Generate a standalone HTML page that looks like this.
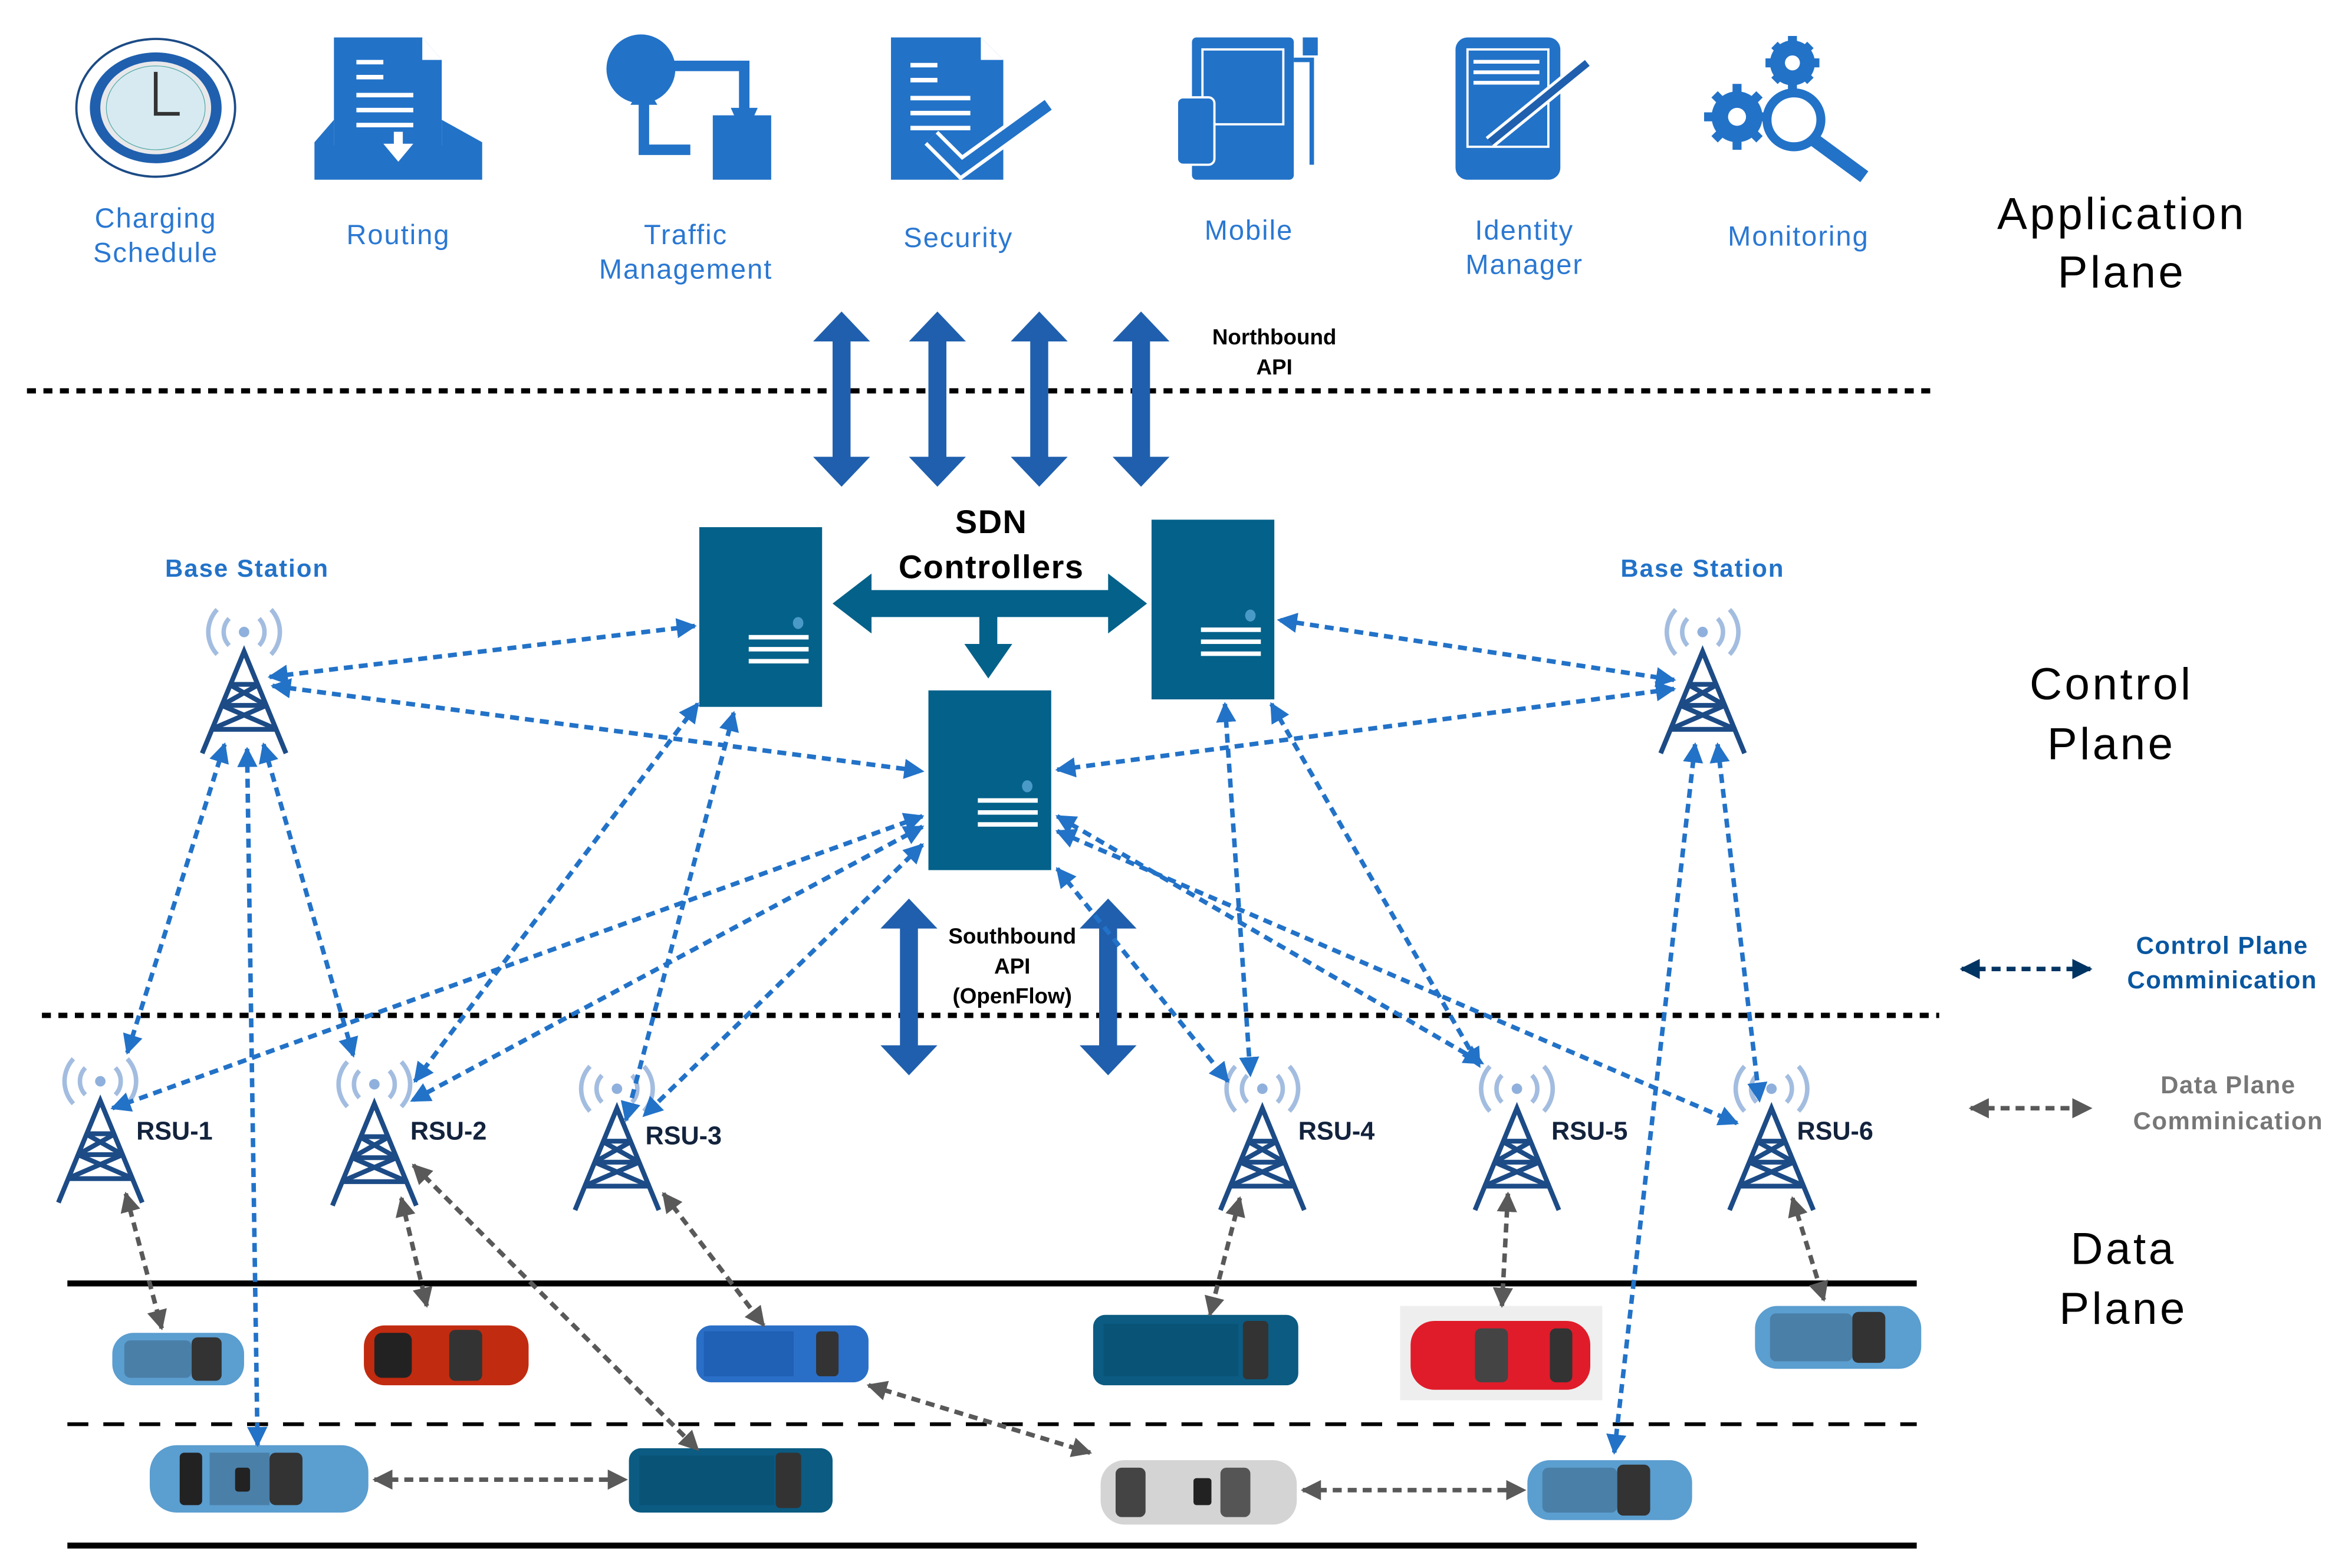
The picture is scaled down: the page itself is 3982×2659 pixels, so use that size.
<!DOCTYPE html>
<html><head><meta charset="utf-8"><style>
html,body{margin:0;padding:0;background:#fff;}
svg{display:block;}
text{font-family:"Liberation Sans",sans-serif;}
</style></head><body>
<svg width="3982" height="2659" viewBox="0 0 1568 1047" preserveAspectRatio="none" xmlns="http://www.w3.org/2000/svg">
<defs>
<marker id="mb" viewBox="0 0 10 10" refX="9" refY="5" markerWidth="4.5" markerHeight="4.5" orient="auto-start-reverse" markerUnits="strokeWidth"><path d="M0,0L10,5L0,10z" fill="#2272c8"/></marker>
<marker id="mg" viewBox="0 0 10 10" refX="9" refY="5" markerWidth="4.5" markerHeight="4.5" orient="auto-start-reverse" markerUnits="strokeWidth"><path d="M0,0L10,5L0,10z" fill="#595959"/></marker>
<marker id="md" viewBox="0 0 10 10" refX="9" refY="5" markerWidth="4.5" markerHeight="4.5" orient="auto-start-reverse" markerUnits="strokeWidth"><path d="M0,0L10,5L0,10z" fill="#003462"/></marker>
<g id="tower">
 <g fill="none" stroke="#a3bde0" stroke-width="3">
  <path d="M-10,-22 a13,13 0 0 0 0,18"/><path d="M10,-22 a13,13 0 0 1 0,18"/>
  <path d="M-18,-28 a22,22 0 0 0 0,30"/><path d="M18,-28 a22,22 0 0 1 0,30"/>
 </g>
 <circle cx="0" cy="-13" r="3.5" fill="#8fb0dc"/>
 <g fill="none" stroke="#1c4b86" stroke-width="3.2">
  <path d="M-28,68 L0,0 L28,68"/>
  <path d="M-10,22 L10,22 M-15,36 L15,36 M-22,52 L22,52"/>
  <path d="M-10,22 L15,36 M10,22 L-15,36 M-15,36 L22,52 M15,36 L-22,52"/>
 </g>
</g>
<g id="server">
 <rect x="0" y="0" width="82" height="120" fill="#03618a"/>
 <ellipse cx="66" cy="64" rx="3.5" ry="4" fill="#4a9ac8"/>
 <rect x="33" y="72" width="40" height="3" fill="#fff"/>
 <rect x="33" y="80" width="40" height="3" fill="#fff"/>
 <rect x="33" y="88" width="40" height="3" fill="#fff"/>
</g>
</defs>

<ellipse cx="104" cy="72" rx="53" ry="46" fill="none" stroke="#1c4b86" stroke-width="1.5"/>
<ellipse cx="104" cy="72" rx="44" ry="37" fill="#1f5fae"/>
<ellipse cx="104" cy="72" rx="37" ry="31" fill="#e8e8ea"/>
<ellipse cx="104" cy="72" rx="33" ry="28" fill="#d7eaf1" stroke="#5aa" stroke-width="0.5"/>
<path d="M104,48 L104,76 L120,76" fill="none" stroke="#333" stroke-width="2.5"/>

<path d="M223,25 L282,25 L295,40 L295,110 L223,110z" fill="#2272c8"/>
<path d="M282,25 L282,40 L295,40z" fill="#fff"/>
<path d="M210,95 L223,80 L223,97 L295,97 L295,80 L322,95 L322,120 L210,120z" fill="#2272c8"/>
<g fill="#fff"><rect x="238" y="40" width="18" height="3"/><rect x="238" y="50" width="18" height="3"/><rect x="238" y="62" width="38" height="3"/><rect x="238" y="72" width="38" height="3"/><rect x="238" y="82" width="38" height="3"/><rect x="263" y="88" width="6" height="10"/><path d="M256,96 L276,96 L266,108z"/></g>

<ellipse cx="428" cy="46" rx="23" ry="23" fill="#2272c8"/>
<path d="M430,57 L430,100 L461,100" fill="none" stroke="#2272c8" stroke-width="7"/>
<path d="M421,70 L430,55 L439,70z" fill="#2272c8"/>
<path d="M446,44 L497,44 L497,88" fill="none" stroke="#2272c8" stroke-width="7"/>
<rect x="476" y="77" width="39" height="43" fill="#2272c8"/>
<path d="M488,72 L497,92 L506,72z" fill="#2272c8"/>

<path d="M595,25 L655,25 L670,40 L670,120 L595,120z" fill="#2272c8"/>
<path d="M655,25 L655,40 L670,40z" fill="#fff"/>
<g fill="#fff"><rect x="608" y="42" width="18" height="3"/><rect x="608" y="52" width="18" height="3"/><rect x="608" y="64" width="40" height="3"/><rect x="608" y="74" width="40" height="3"/><rect x="608" y="84" width="40" height="3"/></g>
<path d="M622,92 L642,112 L700,70" fill="none" stroke="#fff" stroke-width="13"/>
<path d="M622,92 L642,112 L700,70" fill="none" stroke="#2272c8" stroke-width="8"/>

<rect x="796" y="25" width="68" height="95" rx="3" fill="#2272c8"/>
<rect x="803" y="33" width="54" height="50" fill="none" stroke="#fff" stroke-width="1.5"/>
<rect x="786" y="65" width="25" height="45" rx="4" fill="#2272c8" stroke="#fff" stroke-width="1.5"/>
<path d="M864,40 L876,40 L876,110" fill="none" stroke="#2272c8" stroke-width="3"/>
<rect x="870" y="25" width="10" height="12" fill="#2272c8"/>

<rect x="972" y="25" width="70" height="95" rx="8" fill="#2272c8"/>
<rect x="980" y="33" width="54" height="65" fill="none" stroke="#fff" stroke-width="1.5"/>
<g fill="#fff"><rect x="984" y="40" width="44" height="2.5"/><rect x="984" y="47" width="44" height="2.5"/><rect x="984" y="54" width="44" height="2.5"/></g>
<path d="M995,95 L1060,42" stroke="#fff" stroke-width="9"/>
<path d="M995,95 L1060,42" stroke="#1f5fae" stroke-width="5"/>

<g fill="#2272c8">
<circle cx="1160" cy="78" r="17"/><circle cx="1197" cy="42" r="15"/>
<g stroke="#2272c8" stroke-width="6" fill="none"><path d="M1138,78 L1182,78 M1160,56 L1160,100 M1145,63 L1175,93 M1175,63 L1145,93"/><path d="M1179,42 L1215,42 M1197,24 L1197,60 M1185,30 L1209,54 M1209,30 L1185,54"/></g>
<circle cx="1160" cy="78" r="6" fill="#fff"/><circle cx="1197" cy="42" r="5" fill="#fff"/>
<circle cx="1198" cy="80" r="18" fill="#fff" stroke="#2272c8" stroke-width="6"/>
<path d="M1211,93 L1245,118" stroke="#2272c8" stroke-width="9"/>
</g>

<g fill="#2a78d2" font-size="18.5" letter-spacing="0.8" text-anchor="middle">
<text x="104" y="152">Charging</text><text x="104" y="175">Schedule</text>
<text x="266" y="163">Routing</text>
<text x="458" y="163">Traffic</text><text x="458" y="186">Management</text>
<text x="640" y="165">Security</text>
<text x="834" y="160">Mobile</text>
<text x="1018" y="160">Identity</text><text x="1018" y="183">Manager</text>
<text x="1201" y="164">Monitoring</text>
</g>

<g fill="#000" font-size="30" letter-spacing="1.8" text-anchor="middle">
<text x="1417" y="153">Application</text><text x="1417" y="192">Plane</text>
<text x="1410" y="467">Control</text><text x="1410" y="507">Plane</text>
<text x="1418" y="844">Data</text><text x="1418" y="884">Plane</text>
</g>

<line x1="18" y1="261" x2="1290" y2="261" stroke="#000" stroke-width="3.5" stroke-dasharray="6,5"/>
<line x1="28" y1="678" x2="1295" y2="678" stroke="#000" stroke-width="3.5" stroke-dasharray="6,5"/>

<g fill="#1f5fae">
<path id="va" d="M0,0 L-19,20 L-6,20 L-6,97 L-19,97 L0,117 L19,97 L6,97 L6,20 L19,20z" transform="translate(562,208)"/>
<use href="#va" transform="translate(64,0)"/>
<use href="#va" transform="translate(132,0)"/>
<use href="#va" transform="translate(200,0)"/>
<path d="M0,0 L-19,20 L-6,20 L-6,98 L-19,98 L0,118 L19,98 L6,98 L6,20 L19,20z" transform="translate(607,600)"/>
<path d="M0,0 L-19,20 L-6,20 L-6,98 L-19,98 L0,118 L19,98 L6,98 L6,20 L19,20z" transform="translate(740,600)"/>
</g>
<g font-weight="bold" font-size="14.5" text-anchor="middle" fill="#000">
<text x="851" y="230">Northbound</text><text x="851" y="250">API</text>
<text x="676" y="630">Southbound</text><text x="676" y="650">API</text><text x="676" y="670">(OpenFlow)</text>
</g>

<use href="#server" x="467" y="352"/>
<use href="#server" x="769" y="347"/>
<use href="#server" x="620" y="461"/>
<path d="M556,403 L582,383 L582,394 L740,394 L740,383 L766,403 L740,423 L740,412 L666,412 L666,430 L676,430 L660,453 L644,430 L654,430 L654,412 L582,412 L582,423z" fill="#03618a"/>
<g font-weight="bold" font-size="22" letter-spacing="0.6" text-anchor="middle" fill="#000"><text x="662" y="356">SDN</text><text x="662" y="386">Controllers</text></g>

<use href="#tower" transform="translate(163,435)"/>
<use href="#tower" transform="translate(1137,435)"/>
<g font-weight="bold" font-size="16.5" letter-spacing="0.8" fill="#2272c8" text-anchor="middle"><text x="165" y="385">Base Station</text><text x="1137" y="385">Base Station</text></g>

<use href="#tower" transform="translate(67,735)"/>
<use href="#tower" transform="translate(250,737)"/>
<use href="#tower" transform="translate(412,740)"/>
<use href="#tower" transform="translate(843,740)"/>
<use href="#tower" transform="translate(1013,740)"/>
<use href="#tower" transform="translate(1183,740)"/>
<g font-weight="bold" font-size="17" fill="#13233d">
<text x="91" y="761">RSU-1</text><text x="274" y="761">RSU-2</text><text x="431" y="764">RSU-3</text>
<text x="867" y="761">RSU-4</text><text x="1036" y="761">RSU-5</text><text x="1200" y="761">RSU-6</text>
</g>

<line x1="45" y1="857" x2="1280" y2="857" stroke="#000" stroke-width="4"/>
<line x1="45" y1="951" x2="1280" y2="951" stroke="#000" stroke-width="2.5" stroke-dasharray="14,10"/>
<line x1="45" y1="1032" x2="1280" y2="1032" stroke="#000" stroke-width="4"/>

<g>
<rect x="75" y="890" width="88" height="35" rx="14" fill="#5b9ed0"/><rect x="83" y="895" width="45" height="25" rx="4" fill="#4a7fa8"/><rect x="128" y="893" width="20" height="29" rx="4" fill="#333"/>
<rect x="243" y="885" width="110" height="40" rx="14" fill="#c12b10"/><rect x="250" y="890" width="25" height="30" rx="5" fill="#222"/><rect x="300" y="888" width="22" height="34" rx="4" fill="#333"/>
<rect x="465" y="885" width="115" height="38" rx="10" fill="#2a6fc7"/><rect x="470" y="889" width="60" height="30" fill="#2060b5"/><rect x="545" y="889" width="15" height="30" rx="3" fill="#333"/>
<rect x="730" y="878" width="137" height="47" rx="8" fill="#0b5b82"/><rect x="737" y="884" width="90" height="35" fill="#095377"/><rect x="830" y="882" width="17" height="39" rx="3" fill="#333"/>
<rect x="935" y="872" width="135" height="63" fill="#eeeeee"/>
<rect x="942" y="882" width="120" height="46" rx="16" fill="#e01c2a"/><rect x="985" y="887" width="22" height="36" rx="4" fill="#444"/><rect x="1035" y="887" width="15" height="36" rx="4" fill="#333"/>
<rect x="1172" y="872" width="111" height="42" rx="15" fill="#5b9ed0"/><rect x="1182" y="877" width="55" height="32" rx="4" fill="#4a7fa8"/><rect x="1237" y="876" width="22" height="34" rx="4" fill="#333"/>
<rect x="100" y="965" width="146" height="45" rx="18" fill="#5b9ed0"/><rect x="120" y="970" width="15" height="35" rx="3" fill="#222"/><rect x="140" y="970" width="40" height="35" fill="#4a7fa8"/><rect x="157" y="980" width="10" height="16" rx="2" fill="#222"/><rect x="180" y="970" width="22" height="35" rx="4" fill="#333"/>
<rect x="420" y="967" width="136" height="43" rx="8" fill="#0b5b82"/><rect x="427" y="972" width="90" height="33" fill="#095377"/><rect x="518" y="970" width="17" height="37" rx="3" fill="#333"/>
<rect x="735" y="975" width="131" height="43" rx="16" fill="#d4d4d4"/><rect x="745" y="980" width="20" height="33" rx="4" fill="#444"/><rect x="797" y="987" width="12" height="18" rx="2" fill="#222"/><rect x="815" y="980" width="20" height="33" rx="4" fill="#555"/>
<rect x="1020" y="975" width="110" height="40" rx="15" fill="#5b9ed0"/><rect x="1030" y="980" width="50" height="30" rx="4" fill="#4a7fa8"/><rect x="1080" y="978" width="22" height="34" rx="4" fill="#333"/>
</g>

<g stroke="#2272c8" stroke-width="3" stroke-dasharray="6,4" fill="none" marker-start="url(#mb)" marker-end="url(#mb)">
<line x1="180" y1="452" x2="464" y2="418"/>
<line x1="182" y1="458" x2="616" y2="515"/>
<line x1="1118" y1="454" x2="854" y2="414"/>
<line x1="1118" y1="460" x2="706" y2="514"/>
<line x1="150" y1="497" x2="85" y2="703"/>
<line x1="176" y1="497" x2="236" y2="705"/>
<line x1="165" y1="500" x2="172" y2="965"/>
<line x1="1147" y1="497" x2="1175" y2="735"/>
<line x1="1132" y1="497" x2="1078" y2="970"/>
<line x1="466" y1="470" x2="277" y2="722"/>
<line x1="490" y1="476" x2="418" y2="748"/>
<line x1="616" y1="545" x2="75" y2="740"/>
<line x1="616" y1="552" x2="275" y2="735"/>
<line x1="616" y1="564" x2="430" y2="745"/>
<line x1="706" y1="580" x2="820" y2="722"/>
<line x1="706" y1="545" x2="990" y2="710"/>
<line x1="706" y1="555" x2="1160" y2="750"/>
<line x1="818" y1="470" x2="835" y2="718"/>
<line x1="849" y1="470" x2="988" y2="712"/>
</g>

<g stroke="#595959" stroke-width="3" stroke-dasharray="6,4" fill="none" marker-start="url(#mg)" marker-end="url(#mg)">
<line x1="84" y1="797" x2="108" y2="887"/>
<line x1="268" y1="800" x2="285" y2="872"/>
<line x1="276" y1="778" x2="466" y2="968"/>
<line x1="443" y1="797" x2="510" y2="885"/>
<line x1="828" y1="800" x2="808" y2="878"/>
<line x1="1007" y1="797" x2="1003" y2="872"/>
<line x1="1197" y1="800" x2="1218" y2="868"/>
<line x1="250" y1="988" x2="418" y2="988"/>
<line x1="580" y1="925" x2="728" y2="970"/>
<line x1="870" y1="995" x2="1018" y2="995"/>
</g>

<line x1="1310" y1="647" x2="1396" y2="647" stroke="#003462" stroke-width="3" stroke-dasharray="6,4" marker-start="url(#md)" marker-end="url(#md)"/>
<line x1="1316" y1="740" x2="1396" y2="740" stroke="#595959" stroke-width="3" stroke-dasharray="6,4" marker-start="url(#mg)" marker-end="url(#mg)"/>
<g font-weight="bold" font-size="16.5" letter-spacing="0.6" text-anchor="middle">
<text x="1484" y="637" fill="#0856a0">Control Plane</text><text x="1484" y="660" fill="#0856a0">Comminication</text>
<text x="1488" y="730" fill="#777">Data Plane</text><text x="1488" y="754" fill="#777">Comminication</text>
</g>
</svg>
</body></html>
